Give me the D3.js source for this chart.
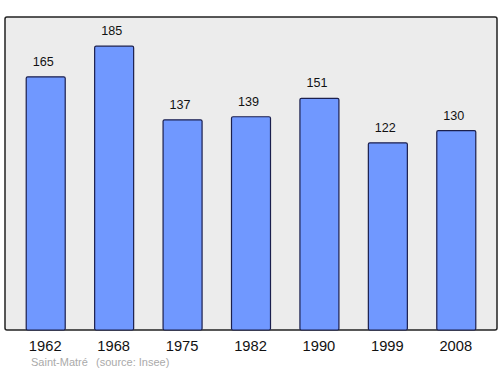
<!DOCTYPE html>
<html>
<head>
<meta charset="utf-8">
<script src="https://cdn.jsdelivr.net/npm/d3@7"></script>
<style>
  body { margin: 0; background: #fff; }
  text { font-family: "Liberation Sans", Arial, sans-serif; }
</style>
</head>
<body>
<div id="chart"></div>
<script>
const years = ['1962', '1968', '1975', '1982', '1990', '1999', '2008'];
const population = [165, 185, 137, 139, 151, 122, 130];

const W = 500, H = 374;
const plot = { left: 5, top: 17, right: 497, bottom: 330 };

const svg = d3.select('#chart')
  .append('svg')
  .attr('width', W)
  .attr('height', H);

const x = d3.scaleBand()
  .domain(years)
  .range([plot.left, plot.right])
  .paddingInner(0.43)
  .paddingOuter(0.31);

const y = d3.scaleLinear()
  .domain([0, 204])
  .range([plot.bottom, plot.top]);

// frame
svg.append('rect')
  .attr('x', plot.left)
  .attr('y', plot.top)
  .attr('width', plot.right - plot.left)
  .attr('height', plot.bottom - plot.top)
  .attr('rx', 2)
  .attr('fill', '#ececec')
  .attr('stroke', '#222')
  .attr('stroke-width', 1.5);

const data = years.map((yr, i) => ({ year: yr, value: population[i] }));

svg.selectAll('rect.bar')
  .data(data)
  .enter()
  .append('rect')
  .attr('class', 'bar')
  .attr('x', d => x(d.year))
  .attr('y', d => y(d.value))
  .attr('width', x.bandwidth())
  .attr('height', d => y(0) - y(d.value))
  .attr('rx', 1.5)
  .attr('fill', '#7098ff')
  .attr('stroke', '#1b1f4d')
  .attr('stroke-width', 1.2);

// value labels sit a little left of the bar centre, as in the original
svg.selectAll('text.val')
  .data(data)
  .enter()
  .append('text')
  .attr('class', 'val')
  .attr('x', d => x(d.year) + x.bandwidth() / 2 - 2.5)
  .attr('y', d => y(d.value) - 11)
  .attr('text-anchor', 'middle')
  .attr('font-size', 12.6)
  .attr('fill', '#111')
  .text(d => d.value);

// x axis labels
const xAxis = d3.axisBottom(x).tickSize(0).tickPadding(11);
const gx = svg.append('g')
  .attr('transform', `translate(-0.5,${plot.bottom})`)
  .call(xAxis);
gx.select('.domain').remove();
gx.selectAll('text')
  .attr('font-size', 14.7)
  .attr('font-family', '"Liberation Sans", Arial, sans-serif')
  .attr('fill', '#111');

const foot = svg.append('g').attr('font-size', 11).attr('fill', '#aaa');
foot.append('text').attr('x', 31).attr('y', 366).text('Saint-Matré');
foot.append('text').attr('x', 96).attr('y', 366).text('(source: Insee)');
</script>
</body>
</html>
